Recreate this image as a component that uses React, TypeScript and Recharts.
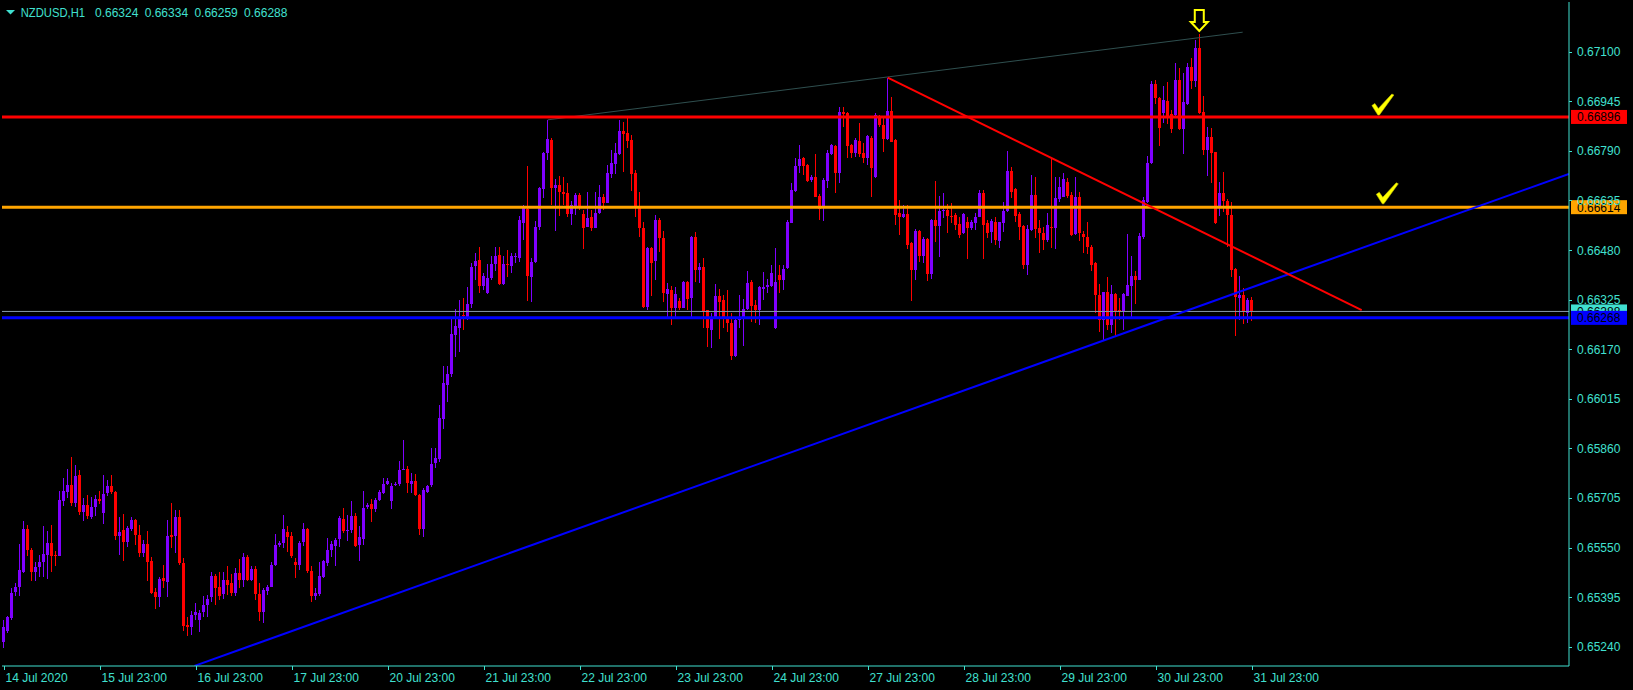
import React from 'react'
import {
  ComposedChart,
  Bar,
  XAxis,
  YAxis,
  ReferenceLine,
  ReferenceDot,
} from 'recharts'

const FG = '#40e0d0'
const BULL = '#8000ff'
const BEAR = '#ff0000'
const FONT = '"Liberation Sans", Arial, sans-serif'

// NZDUSD H1, 14 Jul 23:00 .. 31 Jul 23:00, prices in points (1e-5)
const opens = [
  65256, 65290, 65329, 65411, 65428, 65472, 65608, 65543, 65472, 65488, 65504, 65527, 65563, 65527, 65525, 65697, 65725, 65745, 65689, 65777, 65660, 65683, 65645, 65676,
  65702, 65659, 65722, 65743, 65725, 65587, 65605, 65566, 65607, 65636, 65590, 65534, 65561, 65508, 65412, 65395, 65454, 65441, 65590, 65587, 65645, 65501, 65308, 65303,
  65338, 65322, 65347, 65370, 65395, 65461, 65426, 65404, 65449, 65438, 65407, 65470, 65447, 65520, 65447, 65483, 65405, 65350, 65415, 65428, 65496, 65557, 65563, 65598,
  65586, 65504, 65495, 65566, 65608, 65477, 65400, 65404, 65459, 65503, 65541, 65556, 65576, 65640, 65603, 65605, 65649, 65558, 65577, 65676, 65686, 65670, 65699, 65722,
  65749, 65697, 65744, 65749, 65793, 65796, 65749, 65758, 65715, 65608, 65725, 65744, 65814, 65826, 65951, 66058, 66092, 66214, 66237, 66277, 66271, 66311, 66431, 66449,
  66369, 66345, 66394, 66436, 66465, 66374, 66436, 66431, 66457, 66454, 66566, 66609, 66397, 66444, 66551, 66670, 66783, 66824, 66675, 66684, 66661, 66658, 66593, 66619,
  66652, 66593, 66553, 66583, 66550, 66595, 66645, 66628, 66717, 66749, 66781, 66852, 66845, 66824, 66720, 66618, 66548, 66303, 66486, 66447, 66574, 66517, 66343, 66355,
  66300, 66321, 66300, 66379, 66331, 66522, 66418, 66427, 66293, 66230, 66267, 66335, 66324, 66265, 66253, 66149, 66262, 66263, 66295, 66381, 66309, 66293, 66357, 66363,
  66368, 66237, 66402, 66386, 66423, 66566, 66664, 66743, 66769, 66746, 66699, 66709, 66649, 66616, 66697, 66780, 66806, 66722, 66912, 66907, 66808, 66784, 66821, 66782,
  66769, 66829, 66707, 66892, 66871, 66827, 66915, 66824, 66595, 66584, 66593, 66503, 66418, 66541, 66461, 66514, 66405, 66574, 66556, 66602, 66605, 66587, 66589, 66561,
  66532, 66568, 66550, 66566, 66584, 66659, 66566, 66537, 66567, 66509, 66566, 66603, 66727, 66671, 66593, 66555, 66433, 66543, 66652, 66548, 66534, 66511, 66553, 66550,
  66638, 66647, 66694, 66652, 66530, 66647, 66530, 66520, 66491, 66439, 66340, 66260, 66350, 66246, 66342, 66293, 66288, 66337, 66366, 66399, 66387, 66522, 66631, 66753,
  66999, 66954, 66907, 66946, 66904, 66902, 67011, 66858, 66938, 67053, 67009, 67113, 66912, 66793, 66834, 66787, 66618, 66657, 66632, 66589, 66420, 66329, 66339, 66282,
  66324,
]
const highs = [
  65324, 65336, 65423, 65438, 65561, 65633, 65621, 65548, 65506, 65527, 65618, 65602, 65621, 65539, 65727, 65767, 65795, 65834, 65808, 65793, 65704, 65715, 65707, 65715,
  65728, 65777, 65761, 65777, 65727, 65645, 65655, 65618, 65645, 65638, 65621, 65574, 65602, 65520, 65423, 65459, 65494, 65636, 65689, 65668, 65668, 65517, 65334, 65353,
  65378, 65355, 65399, 65402, 65475, 65468, 65475, 65475, 65493, 65468, 65485, 65513, 65532, 65527, 65491, 65491, 65438, 65423, 65433, 65506, 65593, 65569, 65652, 65616,
  65600, 65517, 65569, 65626, 65610, 65491, 65423, 65506, 65511, 65579, 65569, 65579, 65647, 65673, 65652, 65694, 65657, 65616, 65728, 65688, 65701, 65704, 65730, 65767,
  65767, 65751, 65756, 65819, 65886, 65805, 65784, 65780, 65718, 65737, 65746, 65860, 65860, 65995, 66117, 66117, 66263, 66297, 66323, 66329, 66363, 66439, 66470, 66491,
  66408, 66436, 66460, 66489, 66491, 66460, 66480, 66470, 66470, 66585, 66621, 66743, 66454, 66571, 66678, 66788, 66887, 66830, 66702, 66712, 66708, 66689, 66634, 66658,
  66658, 66606, 66660, 66606, 66661, 66684, 66654, 66746, 66793, 66816, 66887, 66879, 66892, 66840, 66731, 66660, 66569, 66491, 66491, 66590, 66579, 66540, 66376, 66366,
  66364, 66329, 66384, 66384, 66525, 66535, 66439, 66454, 66293, 66282, 66373, 66359, 66340, 66355, 66282, 66267, 66340, 66327, 66415, 66387, 66324, 66366, 66410, 66391,
  66433, 66485, 66433, 66433, 66574, 66691, 66769, 66808, 66772, 66748, 66715, 66780, 66655, 66704, 66793, 66810, 66808, 66928, 66928, 66912, 66813, 66829, 66878, 66816,
  66840, 66836, 66909, 66902, 66899, 67019, 66959, 66827, 66636, 66621, 66621, 66506, 66545, 66543, 66522, 66517, 66576, 66697, 66649, 66657, 66624, 66626, 66595, 66584,
  66597, 66584, 66574, 66595, 66668, 66668, 66574, 66576, 66584, 66569, 66631, 66790, 66741, 66673, 66600, 66558, 66558, 66715, 66709, 66574, 66553, 66595, 66767, 66709,
  66709, 66720, 66704, 66662, 66709, 66662, 66540, 66569, 66496, 66444, 66374, 66350, 66397, 66371, 66345, 66329, 66345, 66530, 66460, 66413, 66533, 66647, 66774, 67008,
  67011, 66959, 66993, 67006, 66918, 67066, 67048, 67032, 67066, 67081, 67136, 67155, 66961, 66866, 66863, 66788, 66694, 66725, 66640, 66631, 66423, 66399, 66360, 66329,
  66334,
]
const lows = [
  65235, 65282, 65324, 65397, 65397, 65470, 65522, 65444, 65444, 65457, 65459, 65451, 65475, 65491, 65524, 65680, 65704, 65680, 65676, 65652, 65634, 65640, 65640, 65647,
  65686, 65623, 65711, 65718, 65572, 65527, 65509, 65553, 65602, 65557, 65520, 65520, 65444, 65405, 65358, 65363, 65423, 65395, 65548, 65534, 65496, 65290, 65272, 65275,
  65324, 65287, 65334, 65334, 65381, 65369, 65386, 65389, 65402, 65397, 65399, 65423, 65428, 65445, 65444, 65386, 65319, 65315, 65402, 65426, 65491, 65553, 65548, 65537,
  65517, 65454, 65480, 65555, 65470, 65381, 65386, 65397, 65454, 65491, 65520, 65491, 65553, 65595, 65569, 65595, 65553, 65509, 65558, 65670, 65631, 65662, 65696, 65718,
  65744, 65670, 65741, 65743, 65791, 65722, 65722, 65711, 65590, 65584, 65722, 65739, 65798, 65818, 65920, 66006, 66084, 66146, 66162, 66230, 66261, 66298, 66387, 66345,
  66355, 66342, 66387, 66413, 66371, 66371, 66397, 66408, 66439, 66444, 66510, 66322, 66317, 66439, 66543, 66642, 66762, 66621, 66538, 66585, 66621, 66582, 66559, 66590,
  66606, 66484, 66553, 66538, 66550, 66592, 66606, 66626, 66704, 66718, 66777, 66725, 66800, 66665, 66583, 66522, 66298, 66293, 66335, 66387, 66475, 66319, 66272, 66246,
  66272, 66293, 66298, 66293, 66272, 66381, 66376, 66236, 66178, 66173, 66265, 66202, 66236, 66225, 66137, 66147, 66236, 66181, 66293, 66256, 66251, 66246, 66324, 66345,
  66365, 66232, 66347, 66355, 66420, 66563, 66662, 66720, 66715, 66694, 66694, 66645, 66574, 66571, 66673, 66777, 66659, 66688, 66866, 66769, 66769, 66772, 66772, 66751,
  66746, 66645, 66705, 66866, 66787, 66824, 66818, 66558, 66527, 66579, 66483, 66322, 66386, 66444, 66438, 66384, 66391, 66506, 66457, 66579, 66532, 66563, 66543, 66517,
  66530, 66452, 66543, 66543, 66582, 66452, 66517, 66501, 66496, 66485, 66537, 66600, 66642, 66569, 66511, 66420, 66402, 66540, 66517, 66470, 66480, 66506, 66485, 66483,
  66631, 66645, 66642, 66525, 66527, 66509, 66470, 66468, 66413, 66282, 66225, 66199, 66230, 66220, 66212, 66262, 66230, 66335, 66272, 66312, 66385, 66516, 66626, 66749,
  66938, 66805, 66876, 66874, 66845, 66897, 66855, 66781, 66933, 66982, 66990, 66905, 66777, 66711, 66691, 66560, 66585, 66600, 66490, 66397, 66210, 66262, 66250, 66251,
  66259,
]
const closes = [
  65303, 65332, 65407, 65426, 65480, 65608, 65543, 65472, 65488, 65504, 65529, 65563, 65525, 65524, 65699, 65727, 65745, 65689, 65774, 65662, 65683, 65647, 65676, 65701,
  65696, 65718, 65741, 65725, 65587, 65598, 65566, 65610, 65636, 65588, 65534, 65561, 65506, 65407, 65395, 65451, 65444, 65586, 65584, 65645, 65501, 65306, 65303, 65339,
  65349, 65345, 65371, 65388, 65461, 65423, 65400, 65449, 65433, 65409, 65470, 65447, 65519, 65447, 65483, 65404, 65348, 65418, 65426, 65496, 65558, 65563, 65608, 65584,
  65522, 65494, 65563, 65608, 65478, 65400, 65408, 65461, 65508, 65543, 65561, 65574, 65642, 65602, 65605, 65649, 65556, 65582, 65673, 65683, 65670, 65699, 65725, 65749,
  65759, 65743, 65749, 65793, 65795, 65753, 65758, 65715, 65608, 65730, 65743, 65811, 65829, 65954, 66063, 66091, 66217, 66242, 66271, 66273, 66311, 66428, 66447, 66366,
  66400, 66394, 66436, 66460, 66374, 66436, 66434, 66460, 66462, 66574, 66611, 66399, 66442, 66551, 66673, 66783, 66827, 66675, 66684, 66660, 66656, 66593, 66621, 66652,
  66618, 66548, 66579, 66550, 66595, 66645, 66628, 66720, 66751, 66783, 66852, 66842, 66822, 66718, 66618, 66548, 66303, 66486, 66441, 66574, 66517, 66347, 66358, 66300,
  66342, 66298, 66379, 66327, 66522, 66418, 66427, 66290, 66236, 66267, 66335, 66319, 66265, 66253, 66149, 66262, 66267, 66295, 66376, 66306, 66293, 66363, 66365, 66370,
  66407, 66379, 66386, 66421, 66567, 66668, 66743, 66765, 66743, 66696, 66708, 66647, 66607, 66699, 66782, 66808, 66722, 66910, 66905, 66805, 66784, 66824, 66780, 66767,
  66836, 66738, 66902, 66870, 66827, 66915, 66819, 66589, 66584, 66592, 66496, 66418, 66541, 66461, 66514, 66405, 66574, 66556, 66602, 66605, 66587, 66585, 66558, 66527,
  66593, 66550, 66568, 66584, 66659, 66558, 66534, 66571, 66511, 66567, 66602, 66727, 66662, 66587, 66553, 66433, 66545, 66652, 66546, 66532, 66511, 66558, 66551, 66644,
  66678, 66702, 66649, 66527, 66647, 66532, 66520, 66491, 66434, 66338, 66260, 66350, 66246, 66342, 66288, 66288, 66342, 66371, 66399, 66387, 66524, 66636, 66753, 66999,
  66954, 66860, 66949, 66892, 66857, 67011, 66858, 66944, 67053, 67008, 67113, 66907, 66793, 66834, 66784, 66563, 66657, 66632, 66589, 66418, 66332, 66339, 66287, 66324,
  66288,
]

const dayTicks = [0, 24, 48, 72, 96, 120, 144, 168, 192, 216, 240, 264, 288, 312]
const dayLabels = [
  '14 Jul 2020', '15 Jul 23:00', '16 Jul 23:00', '17 Jul 23:00', '20 Jul 23:00',
  '21 Jul 23:00', '22 Jul 23:00', '23 Jul 23:00', '24 Jul 23:00', '27 Jul 23:00',
  '28 Jul 23:00', '29 Jul 23:00', '30 Jul 23:00', '31 Jul 23:00',
]
const priceTicks = [
  0.6524, 0.65395, 0.6555, 0.65705, 0.6586, 0.66015, 0.6617,
  0.66325, 0.6648, 0.66635, 0.6679, 0.66945, 0.671,
]
const titleValues = ['0.66324', '0.66334', '0.66259', '0.66288']

const resistance = 0.66896
const support = 0.66614
const bidPrice = 0.66288
const blueLevel = 0.66268

const blueTrend = [{ x: 47.7, y: 0.6518 }, { x: 391.3, y: 0.66718 }]
const redTrend = [{ x: 221, y: 0.67019 }, { x: 339.5, y: 0.66292 }]
const grayTrend = [{ x: 136, y: 0.66887 }, { x: 309.75, y: 0.67161 }]
const arrowAt = { x: 298.9, y: 0.671975 }
const checks = [{ x: 344.8, y: 0.669349 }, { x: 345.9, y: 0.666573 }]

const X_DOMAIN: [number, number] = [-0.425, 391.33]
const Y_DOMAIN: [number, number] = [0.6517965, 0.6725537]

const data = opens.map((o, i) => ({
  i,
  o: o / 1e5,
  h: highs[i] / 1e5,
  l: lows[i] / 1e5,
  c: closes[i] / 1e5,
  range: [lows[i] / 1e5, highs[i] / 1e5],
}))

function Candle(props: any) {
  const { x, y, width, height, payload } = props
  if (x == null || y == null) return null
  const { o, h, l, c } = payload
  const top = Math.min(y, y + height)
  const span = Math.abs(height)
  const k = h > l ? span / (h - l) : 0
  const cx = Math.round(x + width / 2)
  const bodyTop = top + (h - Math.max(o, c)) * k
  const bodyH = Math.max(1, Math.abs(o - c) * k)
  const col = c >= o ? BULL : BEAR
  return (
    <g shapeRendering="crispEdges">
      <rect x={cx} y={top} width={1} height={Math.max(1, span)} fill={col} />
      <rect x={cx - 1} y={bodyTop} width={3} height={bodyH} fill={col} />
    </g>
  )
}

function DayTick(props: any) {
  const { x, y, payload } = props
  const idx = dayTicks.indexOf(payload.value)
  const px = Math.round(x) + 0.5
  return (
    <g>
      <line x1={px} y1={y} x2={px} y2={y + 4} stroke={FG} />
      <text x={px + 1} y={y + 16} fill={FG} fontSize={12} fontFamily={FONT} textAnchor="start">
        {dayLabels[idx]}
      </text>
    </g>
  )
}

function PriceTick(props: any) {
  const { x, y, payload } = props
  const py = Math.round(y) + 0.5
  return (
    <g>
      <line x1={x} y1={py} x2={x + 3} y2={py} stroke={FG} />
      <text x={x + 8} y={y + 4.5} fill={FG} fontSize={12} fontFamily={FONT}>
        {payload.value.toFixed(5)}
      </text>
    </g>
  )
}

function priceTag(fill: string, text: string) {
  return (props: any) => {
    const vb = props.viewBox || {}
    const right = (vb.x || 0) + (vb.width || 0)
    const y = vb.y || 0
    return (
      <g>
        <rect x={right + 2} y={y - 7} width={56} height={14} fill={fill} />
        <text x={right + 8} y={y + 4.5} fill="#000" fontSize={12} fontFamily={FONT}>
          {text}
        </text>
      </g>
    )
  }
}

function Arrow(props: any) {
  const { cx, cy } = props
  return (
    <path
      d={`M ${cx - 4.5} ${cy - 10.5} L ${cx + 4.5} ${cy - 10.5} L ${cx + 4.5} ${cy + 1.5} L ${cx + 8.5} ${cy + 1.5} L ${cx} ${cy + 10.5} L ${cx - 8.5} ${cy + 1.5} L ${cx - 4.5} ${cy + 1.5} Z`}
      fill="none"
      stroke="#ffff00"
      strokeWidth={2}
    />
  )
}

function Check(props: any) {
  const { cx, cy } = props
  return (
    <path
      d={`M ${cx - 11} ${cy + 1} L ${cx - 8} ${cy - 1} L ${cx - 4.5} ${cy + 4} L ${cx + 9} ${cy - 10.5} L ${cx + 11} ${cy - 9.5} L ${cx - 3.5} ${cy + 10.5} L ${cx - 5} ${cy + 10.5} Z`}
      fill="#ffff00"
      stroke="#c8c800"
      strokeWidth={0.6}
    />
  )
}

export default function App() {
  return (
    <div style={{ position: 'absolute', left: 0, top: 0, width: 1633, height: 690, background: '#000', overflow: 'hidden' }}>
      <ComposedChart width={1633} height={690} data={data} margin={{ top: 2, right: 0, bottom: 0, left: 2 }}>
        <XAxis
          dataKey="i"
          type="number"
          domain={X_DOMAIN}
          allowDataOverflow
          ticks={dayTicks}
          interval={0}
          height={24}
          tickSize={0}
          tickMargin={0}
          axisLine={{ stroke: FG }}
          tickLine={false}
          tick={<DayTick />}
        />
        <XAxis
          xAxisId="top"
          dataKey="i"
          type="number"
          orientation="top"
          domain={X_DOMAIN}
          allowDataOverflow
          height={0}
          tick={false}
          tickLine={false}
          axisLine={{ stroke: FG }}
        />
        <YAxis
          yAxisId="left"
          orientation="left"
          width={0}
          domain={Y_DOMAIN}
          allowDataOverflow
          tick={false}
          tickLine={false}
          axisLine={{ stroke: FG }}
        />
        <YAxis
          orientation="right"
          type="number"
          width={64}
          domain={Y_DOMAIN}
          allowDataOverflow
          ticks={priceTicks}
          interval={0}
          tickSize={0}
          tickMargin={0}
          axisLine={{ stroke: FG }}
          tickLine={false}
          tick={<PriceTick />}
        />
        <ReferenceLine segment={grayTrend} stroke="#2f4f4f" strokeWidth={1} ifOverflow="hidden" />
        <ReferenceLine y={bidPrice} stroke="#8899aa" strokeWidth={1} label={priceTag(FG, bidPrice.toFixed(5))} />
        <ReferenceLine y={blueLevel} stroke="#0000ff" strokeWidth={3} label={priceTag('#0000ff', blueLevel.toFixed(5))} />
        <ReferenceLine y={resistance} stroke="#ff0000" strokeWidth={3} label={priceTag('#ff0000', resistance.toFixed(5))} />
        <ReferenceLine y={support} stroke="#ffa500" strokeWidth={3} label={priceTag('#ffa500', support.toFixed(5))} />
        <Bar dataKey="range" barSize={3} shape={(p: any) => <Candle {...p} />} isAnimationActive={false} />
        <ReferenceLine segment={blueTrend} stroke="#0000ff" strokeWidth={2} ifOverflow="hidden" />
        <ReferenceLine segment={redTrend} stroke="#ff0000" strokeWidth={2} ifOverflow="hidden" />
        <ReferenceDot x={arrowAt.x} y={arrowAt.y} r={1} shape={(p: any) => <Arrow {...p} />} />
        {checks.map((c, k) => (
          <ReferenceDot key={k} x={c.x} y={c.y} r={1} shape={(p: any) => <Check {...p} />} />
        ))}
      </ComposedChart>
      <svg width={300} height={24} style={{ position: 'absolute', left: 0, top: 0 }}>
        <path d="M 6 10 L 15 10 L 10.5 14.5 Z" fill={FG} />
        <text x={20.7} y={16.7} fill={FG} fontSize={12} fontFamily={FONT} textLength={64.3} lengthAdjust="spacingAndGlyphs">
          NZDUSD,H1
        </text>
        {titleValues.map((v, k) => (
          <text key={k} x={95 + k * 49.7} y={16.7} fill={FG} fontSize={12} fontFamily={FONT}>
            {v}
          </text>
        ))}
      </svg>
    </div>
  )
}
